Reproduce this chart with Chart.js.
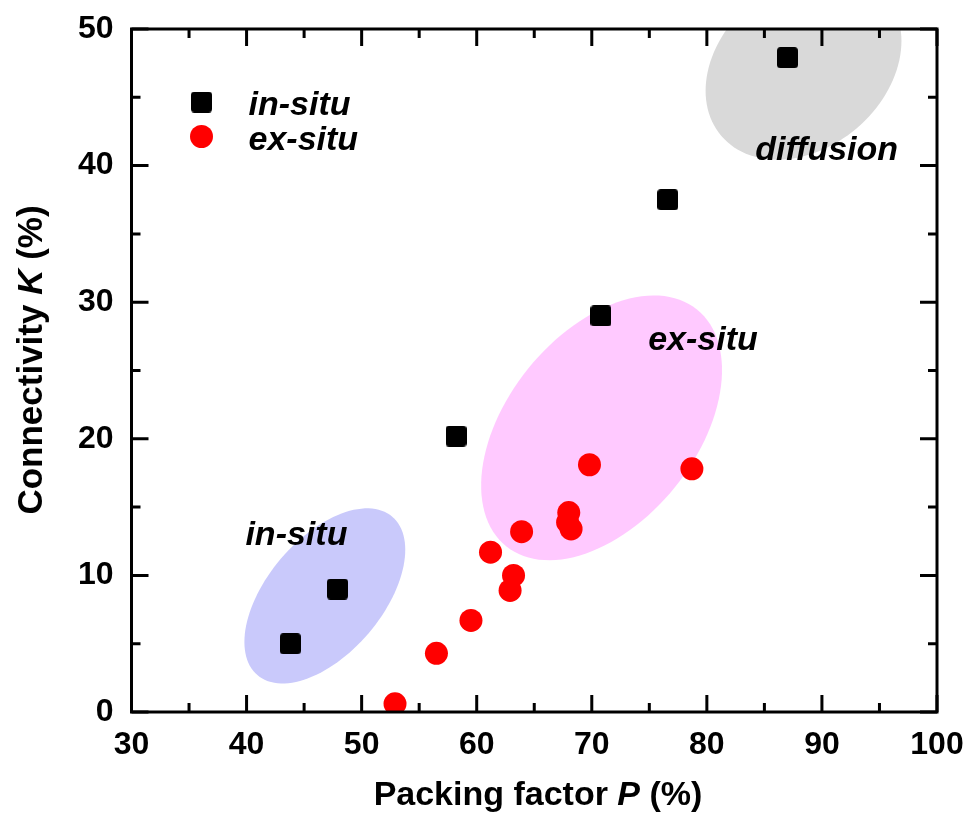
<!DOCTYPE html>
<html>
<head>
<meta charset="utf-8">
<script src="https://cdn.jsdelivr.net/npm/chart.js@4.4.1/dist/chart.umd.min.js"></script>
<style>
  html, body { margin: 0; padding: 0; background: #fff; }
  canvas { display: block; }
</style>
</head>
<body>
<canvas id="chart" width="969" height="819"></canvas>
<script>
// data
const inSituP = [43.8, 47.9, 58.2, 70.8, 76.6, 87.0];
const inSituK = [5.0, 9.0, 20.2, 29.0, 37.5, 47.9];
const exSituP = [52.9, 56.5, 59.5, 61.2, 62.9, 63.2, 63.9, 67.9, 68.0, 68.2, 69.8, 78.7];
const exSituK = [0.6, 4.3, 6.7, 11.7, 8.9, 10.0, 13.2, 13.9, 14.6, 13.4, 18.1, 17.8];

const xTicks = [30, 40, 50, 60, 70, 80, 90, 100];
const yTicks = [0, 10, 20, 30, 40, 50];

// shaded regions (data units): centre + two half-axis vectors
const regionCenterP = [46.8, 70.85, 88.4];
const regionCenterK = [8.5, 20.8, 47.3];
const regionMajorP  = [5.86, 8.29, 7.14];
const regionMajorK  = [5.80, 8.67, 5.13];
const regionMinorP  = [-3.81, -6.39, -4.63];
const regionMinorK  = [2.73, 4.33, 4.56];
const regionColors  = ['#c9c9fb', '#ffc9ff', '#d9d9d9'];

const regionLabels = ['in-situ', 'ex-situ', 'diffusion'];
const regionLabelP = [39.9, 74.9, 84.2];
const regionLabelK = [12.2, 26.5, 40.4];

const FONT = '"Liberation Sans", Arial, sans-serif';

// small rounded black square used as the in-situ marker
const sq = document.createElement('canvas');
sq.width = 21; sq.height = 21;
(() => {
  const c = sq.getContext('2d');
  c.fillStyle = '#000';
  c.beginPath();
  c.roundRect(0, 0, 21, 21, 3.5);
  c.fill();
})();

const decor = {
  id: 'decor',
  beforeDatasetsDraw(chart) {
    const { ctx, chartArea: a, scales: { x, y } } = chart;
    ctx.save();
    ctx.beginPath();
    ctx.rect(a.left, a.top, a.right - a.left, a.bottom - a.top);
    ctx.clip();
    regionCenterP.forEach((cp, i) => {
      ctx.beginPath();
      for (let s = 0; s <= 120; s++) {
        const t = s / 120 * Math.PI * 2;
        const px = x.getPixelForValue(cp + regionMajorP[i] * Math.cos(t) + regionMinorP[i] * Math.sin(t));
        const py = y.getPixelForValue(regionCenterK[i] + regionMajorK[i] * Math.cos(t) + regionMinorK[i] * Math.sin(t));
        s ? ctx.lineTo(px, py) : ctx.moveTo(px, py);
      }
      ctx.closePath();
      ctx.fillStyle = regionColors[i];
      ctx.fill();
    });
    ctx.restore();
  },
  afterDatasetsDraw(chart) {
    const { ctx, chartArea: a, scales: { x, y } } = chart;
    ctx.save();
    ctx.fillStyle = '#000';

    // region labels
    ctx.font = `italic bold 34px ${FONT}`;
    ctx.textAlign = 'left';
    ctx.textBaseline = 'alphabetic';
    regionLabels.forEach((l, i) => {
      ctx.fillText(l, x.getPixelForValue(regionLabelP[i]), y.getPixelForValue(regionLabelK[i]));
    });

    // frame with inward ticks on all sides
    ctx.strokeStyle = '#000';
    ctx.lineWidth = 3;
    ctx.lineCap = 'butt';
    ctx.strokeRect(a.left, a.top, a.right - a.left, a.bottom - a.top);
    ctx.beginPath();
    for (let v = 30; v <= 100; v += 5) {
      const px = x.getPixelForValue(v);
      const len = v % 10 === 0 ? 17 : 9;
      ctx.moveTo(px, a.bottom); ctx.lineTo(px, a.bottom - len);
      ctx.moveTo(px, a.top); ctx.lineTo(px, a.top + len);
    }
    for (let v = 0; v <= 50; v += 5) {
      const py = y.getPixelForValue(v);
      const len = v % 10 === 0 ? 17 : 9;
      ctx.moveTo(a.left, py); ctx.lineTo(a.left + len, py);
      ctx.moveTo(a.right, py); ctx.lineTo(a.right - len, py);
    }
    ctx.stroke();

    // legend
    const lx = a.left + 70;
    ctx.drawImage(sq, lx - 10.5, a.top + 73 - 10.5);
    ctx.fillStyle = '#ff0000';
    ctx.beginPath();
    ctx.arc(lx, a.top + 107.5, 11.5, 0, Math.PI * 2);
    ctx.fill();
    ctx.fillStyle = '#000';
    ctx.font = `italic bold 34px ${FONT}`;
    ctx.fillText(chart.data.datasets[0].label, a.left + 117, a.top + 86);
    ctx.fillText(chart.data.datasets[1].label, a.left + 117, a.top + 121);

    // axis titles with italic symbols
    const drawRun = (parts, size, cx, cy) => {
      const f = it => `${it ? 'italic ' : ''}bold ${size}px ${FONT}`;
      let w = 0;
      parts.forEach(([t, it]) => { ctx.font = f(it); w += ctx.measureText(t).width; });
      let sx = cx - w / 2;
      parts.forEach(([t, it]) => { ctx.font = f(it); ctx.fillText(t, sx, cy); sx += ctx.measureText(t).width; });
    };
    ctx.textBaseline = 'alphabetic';
    drawRun([['Packing factor '], ['P', true], [' (%)']], 34, 538, 805);
    ctx.save();
    ctx.translate(42, 360);
    ctx.rotate(-Math.PI / 2);
    drawRun([['Connectivity '], ['K', true], [' (%)']], 35, 0, 0);
    ctx.restore();

    ctx.restore();
  }
};

new Chart(document.getElementById('chart'), {
  type: 'scatter',
  data: {
    datasets: [
      {
        label: 'in-situ',
        data: inSituP.map((p, i) => ({ x: p, y: inSituK[i] })),
        pointStyle: sq,
        pointRadius: 11,
        pointHoverRadius: 11,
        backgroundColor: '#000',
        borderWidth: 0
      },
      {
        label: 'ex-situ',
        data: exSituP.map((p, i) => ({ x: p, y: exSituK[i] })),
        pointStyle: 'circle',
        pointRadius: 11.5,
        pointHoverRadius: 11.5,
        backgroundColor: '#ff0000',
        borderWidth: 0
      }
    ]
  },
  options: {
    responsive: false,
    animation: false,
    devicePixelRatio: 1,
    layout: { padding: { top: 29, right: 32, left: 0, bottom: 0 } },
    plugins: { legend: { display: false }, tooltip: { enabled: false } },
    scales: {
      x: {
        type: 'linear',
        min: xTicks[0], max: xTicks[xTicks.length - 1],
        afterBuildTicks: s => { s.ticks = xTicks.map(v => ({ value: v })); },
        afterFit: s => { s.height = 107; s.paddingLeft = 0; s.paddingRight = 0; },
        grid: { display: false, drawTicks: false },
        border: { display: false },
        ticks: { color: '#000', padding: 14, maxRotation: 0, font: { family: FONT, size: 32, weight: 'bold' } }
      },
      y: {
        type: 'linear',
        min: yTicks[0], max: yTicks[yTicks.length - 1],
        afterBuildTicks: s => { s.ticks = yTicks.map(v => ({ value: v })); },
        afterFit: s => { s.width = 131.5; s.paddingTop = 0; s.paddingBottom = 0; },
        grid: { display: false, drawTicks: false },
        border: { display: false },
        ticks: { color: '#000', padding: 18, font: { family: FONT, size: 32, weight: 'bold' } }
      }
    }
  },
  plugins: [decor]
});
</script>
</body>
</html>
